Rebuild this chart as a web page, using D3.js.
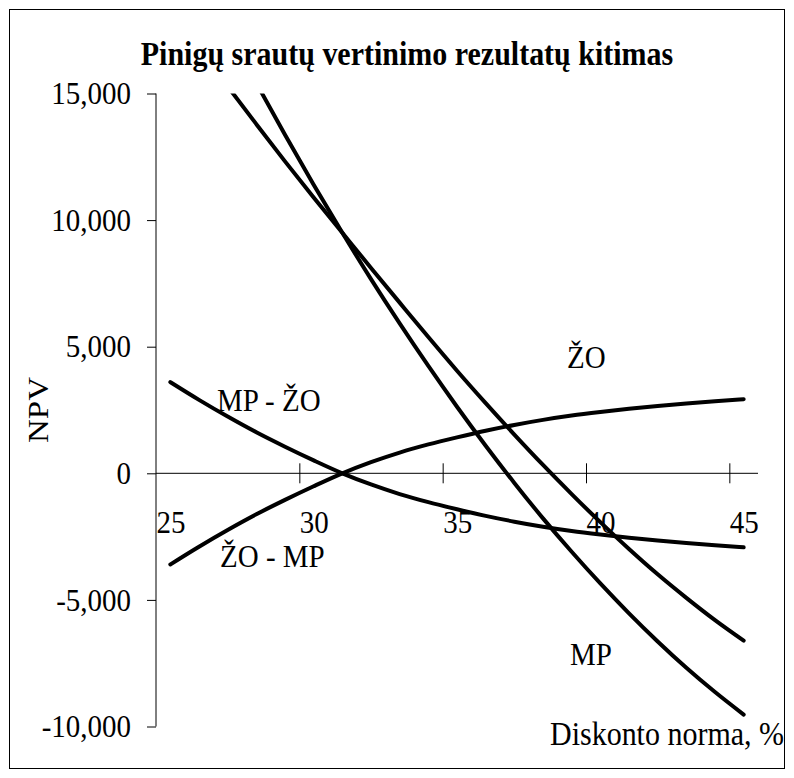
<!DOCTYPE html>
<html>
<head>
<meta charset="utf-8">
<script src="https://cdn.jsdelivr.net/npm/d3@7"></script>
<style>
  html, body { margin: 0; padding: 0; background: #fff; }
  svg { display: block; }
</style>
</head>
<body>
<div id="chart"></div>
<script>
// discount rates (%) where the curves were sampled
const rates = [25.5, 26.5, 27.5, 28.5, 29.5, 30.5, 31.5, 32.5, 33.5, 34.5, 35.5,
  36.5, 37.5, 38.5, 39.5, 40.5, 41.5, 42.5, 43.5, 44.5, 45.5];

const npvZO = [18370, 16810, 15280, 13790, 12320, 10890, 9500, 8110, 6740, 5380, 4050,
  2770, 1530, 330, -820, -1930, -2990, -3990, -4920, -5800, -6610];
const npvMP = [21970, 19710, 17520, 15410, 13370, 11400, 9500, 7670, 5920, 4240, 2630,
  1090, -380, -1780, -3100, -4350, -5530, -6640, -7680, -8640, -9530];
const npvMPminusZO = [3600, 2900, 2240, 1620, 1050, 510, 0, -440, -820, -1140, -1420,
  -1680, -1910, -2110, -2280, -2420, -2545, -2655, -2755, -2845, -2925];
const npvZOminusMP = [-3600, -2900, -2240, -1620, -1050, -510, 0, 440, 820, 1140, 1420,
  1680, 1910, 2110, 2280, 2420, 2545, 2655, 2755, 2845, 2925];

const xTicks = [25, 30, 35, 40, 45];
const yTicks = [-10000, -5000, 0, 5000, 10000, 15000];

const series = [
  { name: "ŽO", values: npvZO, label: [567, 368] },
  { name: "MP", values: npvMP, label: [570, 665] },
  { name: "MP - ŽO", values: npvMPminusZO, label: [217, 411] },
  { name: "ŽO - MP", values: npvZOminusMP, label: [220, 567] }
];

const width = 794, height = 778;
const font = "'Liberation Serif', 'Times New Roman', serif";
const stretch = 1.1; // the original lettering is a little taller than plain Times

const x = d3.scaleLinear().domain([25, 46]).range([156, 758]);
const y = d3.scaleLinear().domain([-10000, 15000]).range([726.5, 93.5]);

const fmt = d3.format(",");
const yFormat = d => fmt(d).replace("−", "-");

const svg = d3.select("#chart").append("svg")
  .attr("width", width)
  .attr("height", height)
  .style("font-family", font);

function label(px, py, txt, size, extra) {
  const t = svg.append("text")
    .attr("transform", `translate(${px},${py}) scale(1,${stretch})`)
    .style("font-size", size + "px")
    .text(txt);
  if (extra) extra(t);
  return t;
}

// outer frame
svg.append("rect")
  .attr("x", 9.5).attr("y", 9.5)
  .attr("width", 775).attr("height", 759)
  .attr("fill", "#fff")
  .attr("stroke", "#000")
  .attr("stroke-width", 1);

label(407, 65, "Pinigų srautų vertinimo rezultatų kitimas", 30, t => t
  .attr("text-anchor", "middle")
  .style("font-weight", "bold"));

// y axis
svg.append("g")
  .attr("transform", `translate(${x(25)},0)`)
  .call(d3.axisLeft(y).tickValues(yTicks).tickSize(9).tickPadding(16).tickFormat(yFormat))
  .call(g => g.select(".domain").attr("d", `M0,${y(15000)}V${y(-10000)}`))
  .call(g => g.selectAll("text")
    .attr("transform", `scale(1,${stretch})`)
    .style("font-family", font)
    .style("font-size", "29px")
    .attr("fill", "#000"));

// x axis on the zero line, ticks crossing it
svg.append("g")
  .attr("transform", `translate(0,${y(0)})`)
  .call(d3.axisBottom(x).tickValues(xTicks).tickSize(0).tickFormat(d3.format("d")))
  .call(g => g.select(".domain").attr("d", `M${x(25)},0H${x(46)}`))
  .call(g => g.selectAll(".tick line").attr("y1", -10).attr("y2", 10).attr("stroke", "#000"))
  .call(g => g.selectAll(".tick").filter(d => d === 25).select("line").remove())
  .call(g => g.selectAll("text")
    .attr("transform", `scale(1,${stretch})`)
    .attr("y", 60 / stretch)
    .attr("dy", 0)
    .attr("text-anchor", "start")
    .attr("fill", "#000")
    .style("font-family", font)
    .style("font-size", "29px"));

svg.append("text")
  .attr("transform", `translate(48,${(y(15000) + y(-10000)) / 2}) rotate(-90) scale(${stretch},1)`)
  .attr("text-anchor", "middle")
  .style("font-size", "30px")
  .text("NPV");

label(550, 745, "Diskonto norma, %", 30);

svg.append("clipPath")
  .attr("id", "plot-clip")
  .append("rect")
  .attr("x", x(25)).attr("y", y(15000))
  .attr("width", x(46) - x(25))
  .attr("height", y(-10000) - y(15000));

const line = d3.line()
  .x((d, i) => x(rates[i]))
  .y(d => y(d))
  .curve(d3.curveMonotoneX);

const curves = svg.append("g").attr("clip-path", "url(#plot-clip)");

curves.selectAll("path")
  .data(series)
  .join("path")
  .attr("d", d => line(d.values))
  .attr("fill", "none")
  .attr("stroke", "#000")
  .attr("stroke-width", 4)
  .attr("stroke-linecap", "round")
  .attr("stroke-linejoin", "round");

series.forEach(s => label(s.label[0], s.label[1], s.name, 29));
</script>
</body>
</html>
